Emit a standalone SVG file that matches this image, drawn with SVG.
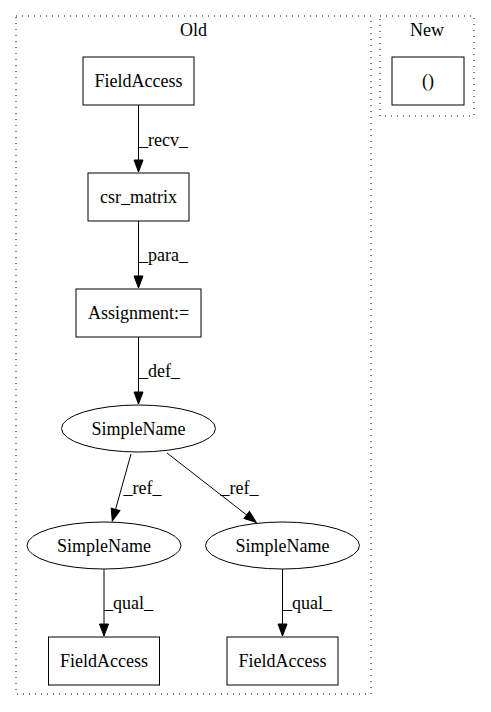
<svg xmlns="http://www.w3.org/2000/svg" width="491" height="712" viewBox="0 0 491 712" font-family="'Liberation Serif', 'Times New Roman', serif" font-size="18">
<style>
text{font-family:"Liberation Serif","Times New Roman",serif;font-size:18px;fill:#000}
.n{text-anchor:middle}
.c{fill:none;stroke:#000;stroke-dasharray:1,5}
.box{fill:#fff;stroke:#000;stroke-width:1}
.e{stroke:#000;stroke-width:1;fill:none;marker-end:url(#ah)}
</style>
<defs>
<marker id="ah" markerUnits="userSpaceOnUse" markerWidth="14" markerHeight="11" refX="12" refY="4.5" orient="auto" overflow="visible">
<path d="M0,0 L12,4.5 L0,9 Z" fill="#000" stroke="#000" stroke-width="1"/>
</marker>
</defs>
<rect width="491" height="712" fill="#fff"/>
<g id="cluster_old">
<rect class="c" x="16" y="16" width="355" height="678"/>
<text class="n" x="193.5" y="36">Old</text>
</g>
<g id="cluster_new">
<rect class="c" x="380" y="16" width="94" height="100"/>
<text class="n" x="427" y="36">New</text>
</g>
<g id="edges">
<line class="e" x1="138.5" y1="105" x2="138.5" y2="172"/>
<text x="163.5" y="146" class="n">_recv_</text>
<line class="e" x1="138.5" y1="221" x2="138.5" y2="288"/>
<text x="163.5" y="261" class="n">_para_</text>
<line class="e" x1="138.5" y1="337" x2="138.5" y2="404"/>
<text x="159.5" y="377" class="n">_def_</text>
<line class="e" x1="131" y1="454" x2="112.3" y2="521"/>
<text x="142.5" y="494" class="n">_ref_</text>
<line class="e" x1="167" y1="453" x2="256.2" y2="522.4"/>
<text x="239.5" y="494" class="n">_ref_</text>
<line class="e" x1="104" y1="569" x2="104" y2="636"/>
<text x="128.5" y="609" class="n">_qual_</text>
<line class="e" x1="282.5" y1="569" x2="282.5" y2="636"/>
<text x="307.5" y="609" class="n">_qual_</text>
</g>
<g id="fieldaccess_top">
<rect class="box" x="83" y="57" width="111" height="48"/>
<text class="n" x="138.5" y="86.5">FieldAccess</text>
</g>
<g id="csr_matrix">
<rect class="box" x="88" y="173" width="101" height="48"/>
<text class="n" x="138.5" y="202.5">csr_matrix</text>
</g>
<g id="assignment">
<rect class="box" x="76" y="289" width="125" height="48"/>
<text class="n" x="138.5" y="318.5">Assignment:=</text>
</g>
<g id="simplename_top">
<ellipse class="box" cx="138.5" cy="428.5" rx="77" ry="23.5"/>
<text class="n" x="138.5" y="434.5">SimpleName</text>
</g>
<g id="simplename_left">
<ellipse class="box" cx="104" cy="545.5" rx="77" ry="23.5"/>
<text class="n" x="104" y="551.5">SimpleName</text>
</g>
<g id="simplename_right">
<ellipse class="box" cx="282.5" cy="545.5" rx="77" ry="23.5"/>
<text class="n" x="282.5" y="551.5">SimpleName</text>
</g>
<g id="fieldaccess_left">
<rect class="box" x="48.5" y="637" width="111" height="48"/>
<text class="n" x="104" y="666.5">FieldAccess</text>
</g>
<g id="fieldaccess_right">
<rect class="box" x="227" y="637" width="111" height="48"/>
<text class="n" x="282.5" y="666.5">FieldAccess</text>
</g>
<g id="new_paren">
<rect class="box" x="392" y="57" width="72" height="48"/>
<text class="n" x="428" y="86.5">()</text>
</g>
</svg>
